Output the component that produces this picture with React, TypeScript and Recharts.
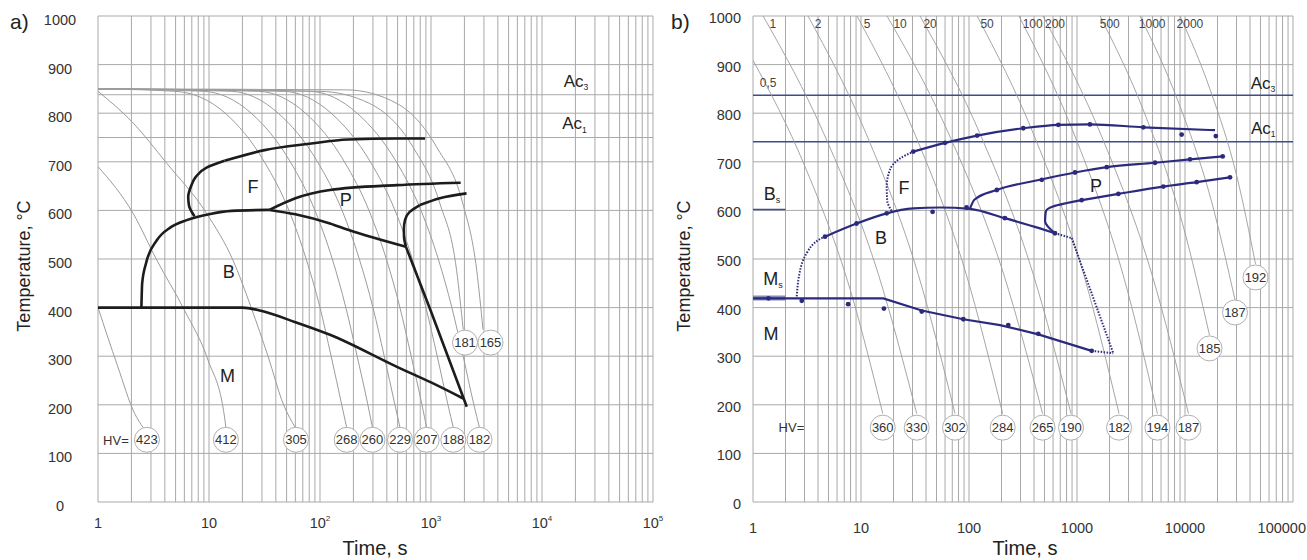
import React from "react";
import { ComposedChart, Line, XAxis, YAxis, ReferenceLine, ReferenceDot } from "recharts";

type Pt = [number, number];

const FONT = '"Liberation Sans", Arial, Helvetica, sans-serif';
const GRID = "#a9a9a9";
const COOL = "#9c9c9c";
const BLACK = "#1c1c1c";
const NAVY = "#2b2b7e";
const ACBLUE = "#3e4c8e";

// axes
const timeTicks = [1, 10, 100, 1000, 10000, 100000];
const tempTicks = [0, 100, 200, 300, 400, 500, 600, 700, 800, 900, 1000];
const decades = [1, 10, 100, 1000, 10000];
const steps = [1, 2, 3, 4, 5, 6, 7, 8, 9];
const gridTimes = [...decades.flatMap((d) => steps.map((s) => s * d)), 100000];

// ---------- a) ----------
const aAcTemps = [838, 750];

const aMs: Pt[] = [[1, 400], [20, 400], [30, 393], [60, 370], [123, 344], [494, 278], [1000, 246], [1950, 213]];
const aBs: Pt[] = [[2.46, 400], [2.5, 450], [2.7, 490], [3.4, 539], [4.5, 565], [6.3, 580], [10, 592], [16, 599], [35, 601]];
const aBEnd: Pt[] = [[35, 601], [60, 592], [123, 573], [179, 560], [595, 525]];
const aBEndLow: Pt[] = [[595, 525], [1000, 392], [2100, 196]];
const aFNose: Pt[] = [[7.4, 588], [6.6, 610], [6.5, 628], [6.9, 650], [7.6, 669], [9.5, 688], [13.8, 702]];
const aFStart: Pt[] = [[13.8, 702], [31.7, 724], [80, 737], [179, 746], [500, 748], [884, 748]];
const aPUpper: Pt[] = [[35, 601], [60, 625], [123, 642], [490, 652], [1850, 657]];
const aPNose: Pt[] = [[595, 525], [572, 545], [570, 562], [583, 580], [642, 597], [794, 611]];
const aPLower: Pt[] = [[794, 611], [1200, 625], [2090, 635]];

const aCool423: Pt[] = [[1, 400], [1.5, 280], [2.14, 182], [2.56, 153]];
const aCool412: Pt[] = [[1, 690], [2.07, 594], [3.38, 498], [6, 395], [9.8, 292], [13.8, 175], [14.2, 153]];
const aCool305: Pt[] = [[1, 845], [2.07, 780], [4.16, 697], [9.5, 594], [16.4, 498], [24, 400], [34, 300], [47, 200], [60, 153]];
const aCool268: Pt[] = [[1, 850], [5, 845], [14, 800], [31.5, 700], [52.5, 600], [75, 500], [100, 400], [126, 300], [157, 200], [174, 153]];
const aCool260: Pt[] = [[1, 850], [9, 845], [24, 800], [54, 700], [90, 600], [129, 500], [171, 400], [216, 300], [270, 200], [297, 153]];
const aCool229: Pt[] = [[1, 850], [16, 845], [42, 800], [95, 700], [158, 600], [226, 500], [300, 400], [379, 300], [473, 200], [526, 153]];
const aCool207: Pt[] = [[1, 850], [28, 845], [74, 800], [166, 700], [276, 600], [396, 500], [525, 400], [663, 300], [829, 200], [914, 153]];
const aCool188: Pt[] = [[1, 850], [47, 845], [126, 800], [284, 700], [474, 600], [679, 500], [900, 400], [1138, 300], [1422, 200], [1589, 153]];
const aCool182: Pt[] = [[1, 850], [81, 845], [216, 800], [487, 700], [812, 600], [1163, 500], [1542, 400], [1948, 300], [2435, 200], [2735, 153]];
const aCool181: Pt[] = [[1, 850], [100, 845], [280, 820], [690, 730], [1200, 615], [1700, 477], [1950, 355]];
const aCool165: Pt[] = [[1, 850], [174, 848], [493, 820], [1126, 730], [1930, 615], [2580, 477], [2940, 355]];
const aCooling = [aCool423, aCool412, aCool305, aCool268, aCool260, aCool229, aCool207, aCool188, aCool182, aCool181, aCool165];

const aHvTimes = [2.76, 14.2, 60.8, 174, 297, 526, 914, 1589, 2735, 2025, 3436];
const aHvTemps = [128, 128, 128, 128, 128, 128, 128, 128, 128, 328, 328];
const aHvValues = ["423", "412", "305", "268", "260", "229", "207", "188", "182", "181", "165"];

const aLabels: [string, string, number, number][] = [
  ["F", "", 24.9, 649],
  ["P", "", 171, 621],
  ["B", "", 15.1, 474],
  ["M", "", 14.7, 260],
  ["Ac", "3", 20230, 866],
  ["Ac", "1", 19600, 778],
];

// ---------- b) ----------
const bAcTemps = [837, 741];

const bMs: Pt[] = [[1, 419], [16.1, 419], [36.5, 394], [88.6, 376], [194, 364], [438, 345], [1368, 311]];
const bMsDot: Pt[] = [[1368, 311], [2168, 306]];
const bMsMark: Pt[] = [[1, 420], [2, 420]];
const bBsMark: Pt[] = [[1, 602], [2, 602]];
const bBsDot: Pt[] = [[2.54, 423], [2.63, 457], [3.14, 512], [4.64, 546]];
const bB: Pt[] = [[4.64, 546], [9.1, 573], [17.3, 594], [30.5, 604], [53.8, 606], [102, 603], [215, 584], [454, 563], [625, 553]];
const bBDot: Pt[] = [[625, 553], [893, 543]];
const bBEndDot: Pt[] = [[893, 543], [2168, 306]];
const bFNose: Pt[] = [[19.2, 599], [17.5, 620], [17.3, 649], [18.5, 683], [23, 707], [30.5, 721]];
const bF: Pt[] = [[30.5, 721], [60, 739], [119, 754], [318, 769], [671, 776], [1318, 777], [4113, 771], [18960, 765]];
const bPUpper: Pt[] = [[102, 603], [112, 622], [181, 642], [454, 663], [958, 678], [1884, 689], [5275, 698], [11130, 705], [22330, 711]];
const bPNose: Pt[] = [[625, 553], [506, 578], [515, 598], [600, 608], [1104, 621]];
const bPLower: Pt[] = [[1104, 621], [2415, 634], [6300, 649], [12820, 658], [26100, 668]];

const bMarks: Pt[] = [
  [1.39, 419], [2.83, 414], [7.6, 407], [16.3, 398], [36.5, 392], [88.6, 376], [231, 364], [438, 346], [1368, 311],
  [4.64, 546], [9.1, 573], [17.3, 594], [46, 597], [95, 606], [215, 584], [625, 553],
  [30.5, 721], [60, 739], [119, 754], [318, 769], [671, 776], [1318, 777], [4113, 771], [9310, 756], [19300, 753],
  [181, 642], [472, 663], [958, 678], [1884, 689], [5275, 698], [11130, 705], [22330, 711],
  [1104, 621], [2415, 634], [6300, 649], [12820, 658], [26100, 668],
];

const bCool05: Pt[] = [[1, 909], [3.02, 691], [7.96, 436], [15.9, 182]];
const bCool1: Pt[] = [[1.24, 1000], [4.59, 755], [14.5, 468], [32.8, 182]];
const bCool2: Pt[] = [[3.23, 1000], [11.3, 755], [33.9, 468], [74.2, 182]];
const bCool5: Pt[] = [[9.18, 1000], [31.8, 755], [94.4, 468], [205, 182]];
const bCool10: Pt[] = [[17.4, 1000], [65.7, 755], [210, 468], [480, 182]];
const bCool20: Pt[] = [[35.2, 1000], [128, 755], [394, 468], [880, 182]];
const bCool50: Pt[] = [[119, 1000], [399, 755], [1153, 468], [2449, 182]];
const bCool100: Pt[] = [[290, 1000], [948, 755], [2667, 468], [5560, 182]];
const bCool200: Pt[] = [[484, 1000], [1671, 755], [4945, 468], [10770, 182]];
const bCool500: Pt[] = [[1633, 1000], [4170, 803], [9480, 573], [16870, 343]];
const bCool1000: Pt[] = [[3830, 1000], [8610, 825], [17530, 620], [29040, 416]];
const bCool2000: Pt[] = [[8990, 1000], [17180, 847], [30290, 669], [44960, 490]];
const bCooling = [bCool05, bCool1, bCool2, bCool5, bCool10, bCool20, bCool50, bCool100, bCool200, bCool500, bCool1000, bCool2000];

const bRateLabels = ["1", "2", "5", "10", "20", "50", "100", "200", "500", "1000", "2000"];
const bRateTimes = [1.53, 4.0, 11.4, 23, 43.6, 147, 389, 626, 2012, 4970, 11100];

const bHvTimes = [15.9, 32.8, 74.2, 205, 480, 880, 2449, 5560, 10770, 16870, 29040, 44960];
const bHvTemps = [153, 153, 153, 153, 153, 153, 153, 153, 153, 316, 390, 462];
const bHvValues = ["360", "330", "302", "284", "265", "190", "182", "194", "187", "185", "187", "192"];

const bLabels: [string, string, number, number][] = [
  ["F", "", 25, 647],
  ["B", "", 15.3, 544],
  ["P", "", 1500, 651],
  ["M", "", 1.47, 346],
  ["M", "s", 1.53, 459],
  ["B", "s", 1.5, 634],
  ["Ac", "3", 52700, 862],
  ["Ac", "1", 53000, 769],
];

// ---------- helpers ----------
const pts = (a: Pt[]) => a.map(([t, T]) => ({ t, T }));

const line = (key: string, data: Pt[], stroke: string, width: number, type: any = "monotone", dash?: string) => (
  <Line
    key={key}
    data={pts(data)}
    dataKey="T"
    type={type}
    stroke={stroke}
    strokeWidth={width}
    strokeDasharray={dash}
    dot={false}
    activeDot={false}
    isAnimationActive={false}
  />
);

const textShape = (main: string, sub: string, size: number, color: string, anchor: any = "middle") => (p: any) => (
  <text x={p.cx} y={p.cy} textAnchor={anchor} dominantBaseline="central" fontSize={size} fill={color}>
    {main}
    {sub ? (
      <tspan fontSize={size * 0.5} dy={size * 0.35}>
        {sub}
      </tspan>
    ) : null}
  </text>
);

const hvShape = (v: string, r: number) => (p: any) => (
  <g>
    <circle cx={p.cx} cy={p.cy} r={r} fill="#fff" stroke="#b0b0b0" strokeWidth={1} />
    <text x={p.cx} y={p.cy} textAnchor="middle" dominantBaseline="central" fontSize={13} fill="#333">
      {v}
    </text>
  </g>
);

const powTick = ({ x, y, payload }: any) => {
  const v = payload.value as number;
  const e = Math.round(Math.log10(v));
  return (
    <text x={x} y={y} dy="0.71em" textAnchor="middle" fontSize={14.5} fill="#333">
      {e < 2 ? String(v) : "10"}
      {e >= 2 ? (
        <tspan fontSize={8} dy={-7}>
          {e}
        </tspan>
      ) : null}
    </text>
  );
};

// the last label sits on the page edge, so it is end-anchored to stay inside
const plainXTick = ({ x, y, payload }: any) => {
  const last = payload.value === 100000;
  return (
    <text x={last ? x + 13 : x} y={y} dy="0.71em" textAnchor={last ? "end" : "middle"} fontSize={14.5} fill="#333">
      {payload.value}
    </text>
  );
};

const aYTick = ({ x, y, payload }: any) => (
  <text x={x - 28} y={y + 4} dy="0.35em" textAnchor="middle" fontSize={14.5} fill="#333">
    {payload.value}
  </text>
);

const bYTick = ({ x, y, payload }: any) => (
  <text x={x} y={y + 2} dy="0.35em" textAnchor="end" fontSize={14.5} fill="#333">
    {payload.value}
  </text>
);

function Grid(acTemps: number[], acColor: string, acWidth: number) {
  return [
    ...gridTimes.map((v) => <ReferenceLine key={"gx" + v} x={v} stroke={GRID} strokeWidth={1} ifOverflow="visible" />),
    ...tempTicks.map((v) => <ReferenceLine key={"gy" + v} y={v} stroke={GRID} strokeWidth={1} ifOverflow="visible" />),
    ...acTemps.map((v) => <ReferenceLine key={"ac" + v} y={v} stroke={acColor} strokeWidth={acWidth} ifOverflow="visible" />),
  ];
}

function PanelA() {
  return (
    <ComposedChart width={680} height={560} margin={{ top: 16, right: 27, bottom: 0, left: 0 }}>
      <XAxis
        dataKey="t"
        type="number"
        scale="log"
        domain={[1, 100000]}
        ticks={timeTicks}
        interval={0}
        allowDataOverflow
        tickLine={false}
        axisLine={false}
        tickSize={0}
        tickMargin={16}
        height={58}
        tick={powTick}
      />
      <YAxis
        type="number"
        domain={[0, 1000]}
        ticks={tempTicks}
        interval={0}
        allowDataOverflow
        tickLine={false}
        axisLine={false}
        tickSize={0}
        tickMargin={10}
        width={98}
        tick={aYTick}
      />
      {Grid(aAcTemps, GRID, 1)}
      {aCooling.map((c, i) => line("ac" + i, c, COOL, 1))}
      {line("ms", aMs, BLACK, 2.6)}
      {line("bs", aBs, BLACK, 2.6)}
      {line("be", aBEnd, BLACK, 2.6)}
      {line("bel", aBEndLow, BLACK, 2.6, "linear")}
      {line("fn", aFNose, BLACK, 2.6, "monotoneY")}
      {line("fs", aFStart, BLACK, 2.6)}
      {line("pu", aPUpper, BLACK, 2.6)}
      {line("pn", aPNose, BLACK, 2.6, "monotoneY")}
      {line("pl", aPLower, BLACK, 2.6)}
      {aHvTimes.map((t, i) => (
        <ReferenceDot key={"hv" + i} x={t} y={aHvTemps[i]} r={12.5} shape={hvShape(aHvValues[i], 12.5)} />
      ))}
      <ReferenceDot x={1.45} y={126} r={1} shape={textShape("HV=", "", 13, "#333")} />
      {aLabels.map(([m, s, t, T], i) => (
        <ReferenceDot key={"la" + i} x={t} y={T} r={1} shape={textShape(m, s, m === "Ac" ? 17 : 18, "#222")} />
      ))}
    </ComposedChart>
  );
}

function PanelB() {
  return (
    <ComposedChart width={654} height={560} margin={{ top: 16, right: 14, bottom: 0, left: 0 }}>
      <XAxis
        dataKey="t"
        type="number"
        scale="log"
        domain={[1, 100000]}
        ticks={timeTicks}
        interval={0}
        allowDataOverflow
        tickLine={false}
        axisLine={false}
        tickSize={0}
        tickMargin={21}
        height={58}
        tick={plainXTick}
      />
      <YAxis
        type="number"
        domain={[0, 1000]}
        ticks={tempTicks}
        interval={0}
        allowDataOverflow
        tickLine={false}
        axisLine={false}
        tickSize={0}
        tickMargin={12}
        width={100}
        tick={bYTick}
      />
      {Grid(bAcTemps, ACBLUE, 1.5)}
      {bCooling.map((c, i) => line("bc" + i, c, COOL, 0.9))}
      {line("msm", bMsMark, "#8a8abb", 5, "linear")}
      {line("bsm", bBsMark, ACBLUE, 1.5, "linear")}
      {line("ms", bMs, NAVY, 2.2, "linear")}
      {line("msd", bMsDot, NAVY, 2, "linear", "1.5 1.5")}
      {line("bsd", bBsDot, NAVY, 2, "monotone", "1.5 1.5")}
      {line("b", bB, NAVY, 2.2)}
      {line("bd", bBDot, NAVY, 2, "linear", "1.5 1.5")}
      {line("bed", bBEndDot, NAVY, 2, "linear", "1.5 1.5")}
      {line("fn", bFNose, NAVY, 2, "monotoneY", "1.5 1.5")}
      {line("f", bF, NAVY, 2.2)}
      {line("pu", bPUpper, NAVY, 2.2)}
      {line("pn", bPNose, NAVY, 2.2, "monotoneY")}
      {line("pl", bPLower, NAVY, 2.2)}
      {bMarks.map(([t, T], i) => (
        <ReferenceDot key={"mk" + i} x={t} y={T} r={2.4} fill={NAVY} stroke="none" />
      ))}
      {bHvTimes.map((t, i) => (
        <ReferenceDot key={"hv" + i} x={t} y={bHvTemps[i]} r={12.5} shape={hvShape(bHvValues[i], 12.5)} />
      ))}
      <ReferenceDot x={2.27} y={154} r={1} shape={textShape("HV=", "", 13, "#333")} />
      <ReferenceDot x={1.38} y={862} r={1} shape={textShape("0,5", "", 12, "#444")} />
      {bRateTimes.map((t, i) => (
        <ReferenceDot key={"rt" + i} x={t} y={983} r={1} shape={textShape(bRateLabels[i], "", 12, "#444")} />
      ))}
      {bLabels.map(([m, s, t, T], i) => (
        <ReferenceDot key={"lb" + i} x={t} y={T} r={1} shape={textShape(m, s, m === "Ac" ? 17 : 18, "#222")} />
      ))}
    </ComposedChart>
  );
}

const abs = (left: number, top: number, size: number, extra: React.CSSProperties = {}): React.CSSProperties => ({
  position: "absolute",
  left,
  top,
  fontSize: size,
  lineHeight: 1,
  whiteSpace: "nowrap",
  ...extra,
});

export default function App() {
  return (
    <div
      style={{
        position: "absolute",
        left: 0,
        top: 0,
        width: 1307,
        height: 560,
        background: "#fff",
        fontFamily: FONT,
        color: "#222",
        overflow: "hidden",
      }}
    >
      <div style={{ position: "absolute", left: 0, top: 0 }}>
        <PanelA />
      </div>
      <div style={{ position: "absolute", left: 653, top: 0 }}>
        <PanelB />
      </div>
      <div style={abs(10, 11, 21)}>a)</div>
      <div style={abs(671, 11, 21)}>b)</div>
      <div style={abs(24, 266, 18, { transform: "translate(-50%, -50%) rotate(-90deg)" })}>Temperature, °C</div>
      <div style={abs(684, 266, 18, { transform: "translate(-50%, -50%) rotate(-90deg)" })}>Temperature, °C</div>
      <div style={abs(375, 548, 20, { transform: "translate(-50%, -50%)" })}>Time, s</div>
      <div style={abs(1025, 548, 20, { transform: "translate(-50%, -50%)" })}>Time, s</div>
    </div>
  );
}
